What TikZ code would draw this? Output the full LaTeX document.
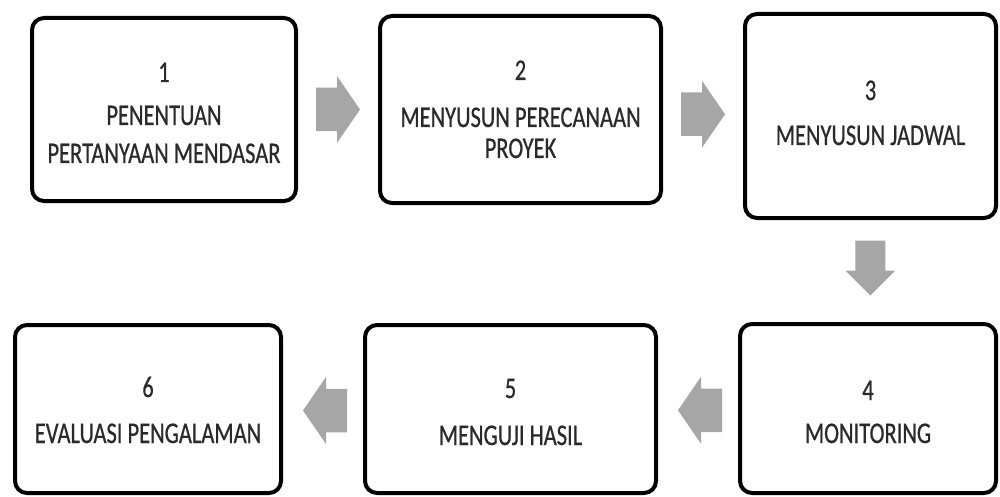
\documentclass[tikz,border=0pt]{standalone}
\usepackage{fontspec}
\newfontfamily\boxfont[FakeStretch=0.75,FakeBold=0.6]{Carlito}
\usetikzlibrary{calc}
\definecolor{arrowgray}{HTML}{A6A6A6}
\definecolor{txt}{HTML}{2A2A2A}
\begin{document}
\begin{tikzpicture}[x=1pt,y=-1pt,
  stepbox/.style={draw=black,line width=4pt,rounded corners=12pt,fill=white,inner sep=0pt},
  lbl/.style={anchor=base,inner sep=0pt,text=txt,font=\boxfont\fontsize{30}{36}\selectfont},
  hblock/.pic={\fill[arrowgray] (-22,-21.75) -- (-1,-21.75) -- (-1,-33.5) -- (22,0) -- (-1,33.5) -- (-1,21.75) -- (-22,21.75) -- cycle;},
  vblock/.pic={\fill[arrowgray] (-27.5,-15) -- (2.5,-15) -- (2.5,-25) -- (27.5,0) -- (2.5,25) -- (2.5,15) -- (-27.5,15) -- cycle;}
]
\useasboundingbox[fill=white] (0,0) rectangle (1000,497);

% boxes
\node[stepbox, minimum width=264pt, minimum height=183pt] (b1) at (164,109.5) {};
\node[stepbox, minimum width=281pt, minimum height=187pt] (b2) at (520.5,109.5) {};
\node[stepbox, minimum width=251pt, minimum height=204pt] (b3) at (870.5,116) {};
\node[stepbox, minimum width=256pt, minimum height=169pt] (b4) at (868,408.5) {};
\node[stepbox, minimum width=291pt, minimum height=168pt] (b5) at (510.5,409) {};
\node[stepbox, minimum width=266pt, minimum height=168pt] (b6) at (148,409) {};

% texts
\node[lbl] (t1a) at (164,82) {1};
\node[lbl] (t1b) at (164,125) {PENENTUAN};
\node[lbl] (t1c) at (164,163) {PERTANYAAN MENDASAR};
\node[lbl] (t2a) at (520.5,80) {2};
\node[lbl] (t2b) at (520.5,127) {MENYUSUN PERECANAAN};
\node[lbl] (t2c) at (520.5,158) {PROYEK};
\node[lbl] (t3a) at (870.5,100) {3};
\node[lbl] (t3b) at (870.5,145) {MENYUSUN JADWAL};
\node[lbl] (t4a) at (868,400) {4};
\node[lbl] (t4b) at (868,443) {MONITORING};
\node[lbl] (t5a) at (510.5,398) {5};
\node[lbl] (t5b) at (510.5,445) {MENGUJI HASIL};
\node[lbl] (t6a) at (148,397) {6};
\node[lbl] (t6b) at (148,443) {EVALUASI PENGALAMAN};

% block arrows between boxes
\pic at ($(b1.east)!0.5!(b2.west)$) {hblock};
\pic at ($(b2.east)!0.5!(b3.west)+(0,1.5)$) {hblock};
\pic[rotate=-90] at ($(b3.south)!0.5!(b4.north)+(1,-3)$) {vblock};
\pic[rotate=180] at ($(b4.west)!0.5!(b5.east)+(2,1.5)$) {hblock};
\pic[rotate=180] at ($(b5.west)!0.5!(b6.east)+(2,1.5)$) {hblock};
\end{tikzpicture}
\end{document}
